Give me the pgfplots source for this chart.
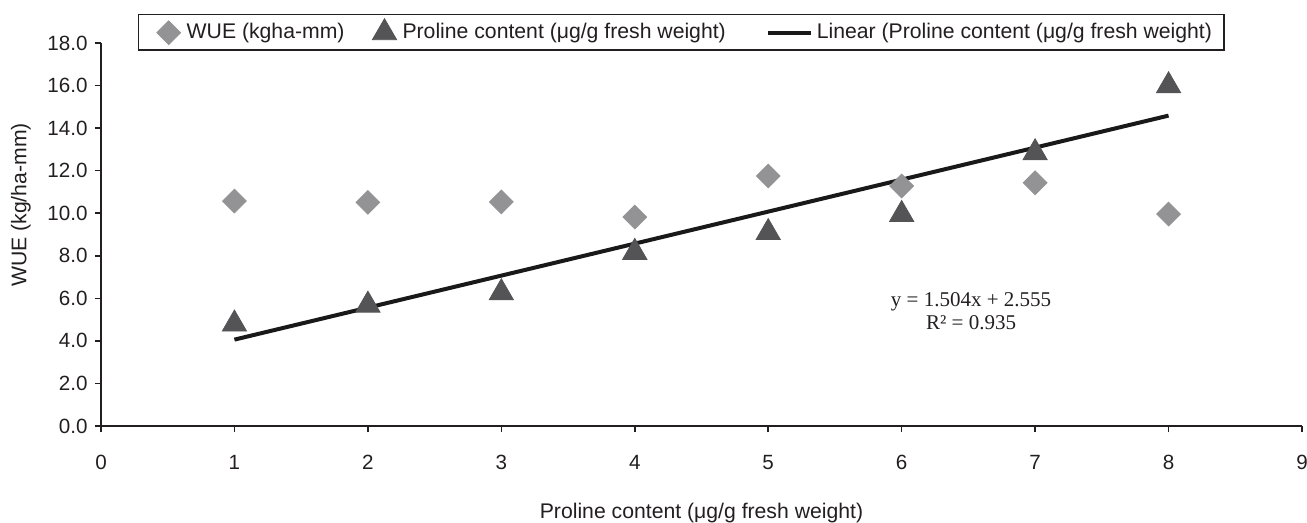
\documentclass[border=0pt]{standalone}
\usepackage{pgfplots}
\pgfplotsset{compat=1.18}
\usepackage{fontspec}
\setmainfont{Liberation Sans}
\newfontfamily\seriffont{Liberation Serif}
\definecolor{wuegray}{HTML}{939396}
\definecolor{progray}{HTML}{545456}
\definecolor{axisblack}{HTML}{231F20}
\pgfplotsset{
  markleg/.style={legend image code/.code={\path[draw=none,fill=none] (0pt,0pt) -- (18pt,0pt); \draw[##1] plot coordinates {(11pt,0pt)};}},
  lineleg/.style={legend image code/.code={\path[draw=none] (0pt,0pt); \draw[##1] (12pt,0pt) -- (33.5pt,0pt);}},
}
\begin{document}
\begin{tikzpicture}
\begin{axis}[
  scale only axis, width=600.5pt, height=191.5pt,
  xmin=0, xmax=9, ymin=0, ymax=18,
  axis x line*=bottom, axis y line*=left,
  axis line style={line width=1pt, color=axisblack},
  xtick={0,...,9}, ytick={0,2,...,18},
  tick align=outside, major tick length=3.2pt,
  tick style={line width=0.8pt, color=axisblack},
  yticklabel style={/pgf/number format/.cd, fixed, fixed zerofill, precision=1},
  ticklabel style={font=\fontsize{10.3}{12}\selectfont, text=axisblack},
  xticklabel shift=8pt,
  xlabel={Proline content (μg/g fresh weight)},
  ylabel={WUE (kg/ha-mm)},
  every axis x label/.style={at={(axis description cs:0.5,-0.227)}, anchor=center, font=\fontsize{10.6}{12}\selectfont, text=axisblack},
  every axis y label/.style={at={(axis description cs:-0.0666,0.577)}, anchor=center, rotate=90, font=\fontsize{10.6}{12}\selectfont, text=axisblack},
  clip=false,
  legend columns=3,
  legend cell align=left,
  legend style={at={(axis description cs:0.0308,1.0757)}, anchor=north west,
    draw=axisblack, line width=0.7pt, inner xsep=4pt, inner ysep=2pt,
    font=\fontsize{10.6}{12}\selectfont, text=axisblack,
    /tikz/every even column/.append style={column sep=7pt}},
  /pgf/number format/assume math mode=true,
]
\addplot[only marks, color=wuegray, mark=square*, mark size=4.2pt,
  mark options={rotate=45, fill=wuegray, draw=wuegray, line width=0.4pt}, markleg]
  coordinates {(1,10.57) (2,10.51) (3,10.53) (4,9.82) (5,11.75) (6,11.28) (7,11.43) (8,9.96)};
\addlegendentry{WUE (kgha-mm)}
\addplot[only marks, color=progray, mark=triangle*, mark size=7.0pt,
  mark options={fill=progray, draw=progray, line width=0.4pt}, markleg]
  coordinates {(1,4.79) (2,5.68) (3,6.26) (4,8.16) (5,9.09) (6,9.94) (7,12.84) (8,15.99)};
\addlegendentry{Proline content (μg/g fresh weight)}
\addplot[no marks, line width=2pt, color=black!90, lineleg]
  coordinates {(1,4.059) (8,14.587)};
\addlegendentry{Linear (Proline content (μg/g fresh weight)}
\node[font=\seriffont\fontsize{10.5}{11.5}\selectfont, align=center, text=axisblack] at (axis cs:6.52,5.38) {y = 1.504x + 2.555\\R² = 0.935};
\end{axis}
\pgfresetboundingbox
\path (-50.5pt,-48.5pt) rectangle (603pt,213pt);
\end{tikzpicture}
\end{document}
